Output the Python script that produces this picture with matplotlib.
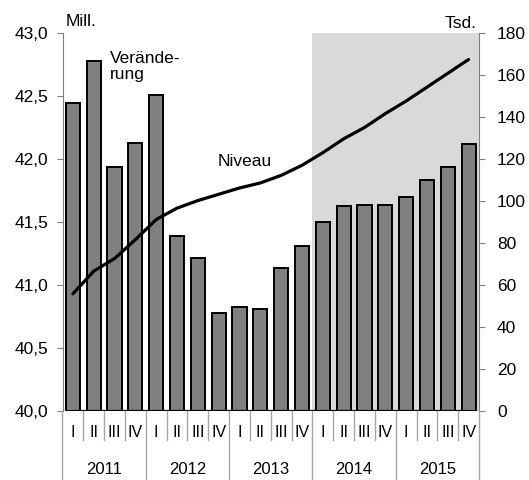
import matplotlib
matplotlib.use("Agg")
import matplotlib.pyplot as plt
import matplotlib.ticker as mticker
import matplotlib.transforms as mtrans

plt.rcParams['font.family'] = ['Liberation Sans', 'DejaVu Sans']
plt.rcParams['font.size'] = 12

# quarterly data 2011-2015
quarters = ["I", "II", "III", "IV"] * 5
years = ["2011", "2012", "2013", "2014", "2015"]
# Veränderung (Tsd., right axis)
change = [146.7, 166.7, 116.2, 127.6, 150.5, 83.3, 72.9, 46.7, 49.5, 48.6,
          68.1, 78.6, 90.0, 97.8, 98.0, 98.0, 101.9, 110.0, 116.0, 127.0]
# Niveau (Mill., left axis)
level = [40.93, 41.11, 41.21, 41.36, 41.52, 41.61, 41.67, 41.72, 41.77, 41.81,
         41.87, 41.95, 42.05, 42.16, 42.25, 42.36, 42.46, 42.57, 42.68, 42.79]
shade_from = 12  # forecast starts 2014 I

grey = '#808080'
sep = '#a6a6a6'
x = list(range(len(change)))

fig = plt.figure(figsize=(5.29, 4.8), dpi=100)
ax = fig.add_axes([62.5 / 529, 69 / 480, 416.5 / 529, 378 / 480])
ax2 = ax.twinx()
ax.set_zorder(2)
ax.patch.set_visible(False)

# bars on the right scale
ax2.axvspan(shade_from - 0.5, len(x) - 0.5, color='#d9d9d9', lw=0, zorder=0)
ax2.bar(x, change, width=0.68, color=grey, edgecolor='black', linewidth=1.4, zorder=2)
ax2.plot([0, len(x) - 1], [0, 0], color='black', lw=1.6, zorder=3, solid_capstyle='butt')
ax2.set_ylim(0, 180)
ax2.set_yticks(range(0, 181, 20))

# line on the left scale
ax.plot(x, level, color='black', lw=2.3, solid_capstyle='round', solid_joinstyle='round', zorder=4)
ax.set_ylim(40, 43)
ax.set_yticks([40, 40.5, 41, 41.5, 42, 42.5, 43])
ax.yaxis.set_major_formatter(mticker.FuncFormatter(lambda v, p: f"{v:.1f}".replace(".", ",")))
ax.set_xlim(-0.5, len(x) - 0.5)
ax.set_xticks([])

for a in (ax, ax2):
    for s in a.spines.values():
        s.set_visible(False)
ax.spines['left'].set_visible(True)
ax.spines['left'].set_color(grey)
ax2.spines['right'].set_visible(True)
ax2.spines['right'].set_color(grey)
ax.tick_params(axis='y', direction='out', length=4, color=grey, pad=6, labelsize=12.5)
ax2.tick_params(axis='y', direction='out', length=4, color=grey, pad=9, labelsize=12.5)

# two-level category axis
tr = mtrans.blended_transform_factory(ax.transData, ax.transAxes)
for i, q in enumerate(quarters):
    ax.text(i, -0.058, q, transform=tr, ha='center', va='center', fontsize=11.5)
for k, y in enumerate(years):
    ax.text(4 * k + 1.5, -0.156, y, transform=tr, ha='center', va='center', fontsize=12)
for i in range(1, len(x)):
    if i % 4:
        ax.plot([i - 0.5, i - 0.5], [0, -0.077], transform=tr, color=sep, lw=1, clip_on=False)
for k in range(len(years) + 1):
    xx = 4 * k - 0.5
    ax.plot([xx, xx], [0, -0.19], transform=tr, color=sep, lw=1, clip_on=False)

fig.text(66 / 529, 1 - 21 / 480, "Mill.", ha='left', va='center', fontsize=12.5)
fig.text(477 / 529, 1 - 23 / 480, "Tsd.", ha='right', va='center', fontsize=12.5)
fig.text(110 / 529, 1 - 51 / 480, "Verände-\nrung", ha='left', va='top', fontsize=12.5, linespacing=1.1)
fig.text(218 / 529, 1 - 161 / 480, "Niveau", ha='left', va='center', fontsize=12.5)

fig.savefig("out.png", dpi=100)
